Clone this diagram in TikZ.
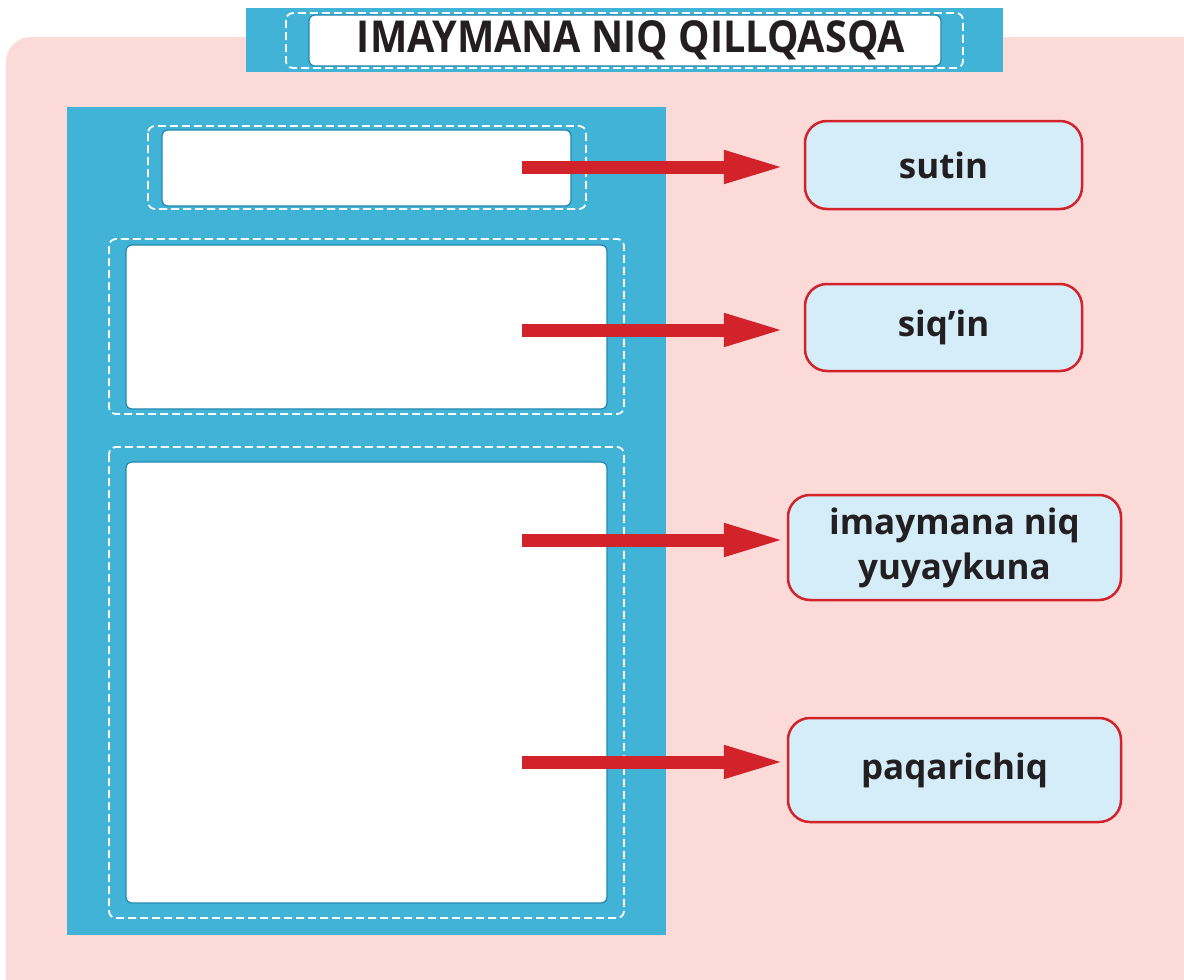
\documentclass[tikz,border=0pt]{standalone}
\usepackage{fontspec}
\setmainfont{Open Sans}
\usetikzlibrary{arrows.meta}
\definecolor{panelblue}{HTML}{41B3D7}
\definecolor{bgpink}{HTML}{FCDAD8}
\definecolor{labfill}{HTML}{D5ECF9}
\definecolor{arrred}{HTML}{D2232A}
\definecolor{edgeblue}{HTML}{1E88B0}
\definecolor{txt}{HTML}{231F20}
\tikzset{
  x=1pt,y=1pt,
  whitebox/.style={draw=edgeblue,line width=1.2pt,fill=white,rounded corners=6pt},
  dashbox/.style={draw=white,line width=1.8pt,dash pattern=on 8pt off 4pt,rounded corners=7pt},
  labbox/.style={draw=arrred,line width=2.5pt,fill=labfill,rounded corners=22pt,
    font=\bfseries\fontsize{35}{45}\selectfont,text=txt,align=center,inner sep=0pt},
  bigarrow/.style={draw=arrred,line width=13pt,-{Triangle[length=62pt,width=30pt]}}
}
\begin{document}
\begin{tikzpicture}
\useasboundingbox (0,0) rectangle (1184,-980);
\clip (0,0) rectangle (1184,-980);
% pink background
\fill[bgpink,rounded corners=25pt] (6,-37) rectangle (1210,-1010);
% title band
\fill[panelblue] (246,-8) rectangle (1003,-72);
\draw[dashbox] (286,-13) rectangle (963,-68);
\node[whitebox,minimum width=632pt,minimum height=51pt,inner sep=0pt] (title) at (625,-40.5) {};
\node[font=\bfseries\fontsize{44}{48}\selectfont,text=txt] (titletext) at ([xshift=6pt]title.center) {\scalebox{0.9}[1]{IMAYMANA NIQ QILLQASQA}};
% blue panel
\fill[panelblue] (67,-107) rectangle (666,-935);
% box 1
\draw[dashbox] (148,-126) rectangle (586,-209);
\draw[whitebox] (162,-130) rectangle (571,-206);
% box 2
\draw[dashbox] (109,-239) rectangle (624,-414);
\draw[whitebox] (126,-245) rectangle (607,-409);
% box 3
\draw[dashbox] (109,-447) rectangle (624,-918);
\draw[whitebox] (126,-462) rectangle (607,-903);
% labels
\node[labbox,minimum width=277pt,minimum height=88pt] (l1) at (943.5,-165) {sutin};
\node[labbox,minimum width=277pt,minimum height=87pt] (l2) at (943.5,-327.5) {siq’in};
\node[labbox,minimum width=333pt,minimum height=105pt] (l3) at (954.5,-547.5) {imaymana niq\\yuyaykuna};
\node[labbox,minimum width=333pt,minimum height=104pt] (l4) at (954.5,-770) {paqarichiq};
% arrow starts
\coordinate (s1) at (522,-167);
\coordinate (s2) at (522,-330);
\coordinate (s3) at (522,-540);
\coordinate (s4) at (522,-762);
\draw[bigarrow,shorten >=18pt] (s1) -- (s1 -| l1.west);
\draw[bigarrow,shorten >=18pt] (s2) -- (s2 -| l2.west);
\draw[bigarrow,shorten >=1pt] (s3) -- (s3 -| l3.west);
\draw[bigarrow,shorten >=1pt] (s4) -- (s4 -| l4.west);
\end{tikzpicture}
\end{document}
